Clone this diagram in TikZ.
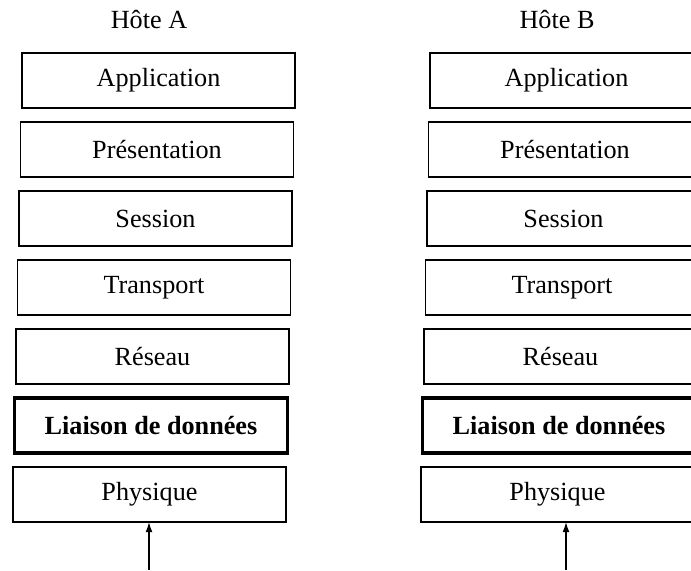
\documentclass[tikz,border=0pt]{standalone}
\usepackage{fontspec}
\setmainfont{Liberation Serif}
\usetikzlibrary{arrows.meta, positioning}

\begin{document}
\begin{tikzpicture}[>={Latex[length=5pt, width=3.4pt]}, x=1pt, y=1pt, node distance=7pt,
	layer/.style={draw, rectangle, line width=0.7pt, outer sep=0pt, minimum height=27.5pt, minimum width=136.5pt, font=\fontsize{13.1}{15}\selectfont, xshift=-0.75pt},
	boldlayer/.style={layer, line width=1.7pt, font=\fontsize{13.1}{15}\selectfont\bfseries},
	host/.style={anchor=base, font=\fontsize{13.1}{15}\selectfont}]
	
	\useasboundingbox (0,0) rectangle (345.5,-285);
	
	% titres des deux hôtes
	\node[host] (hostA) at (74.5,-14) {Hôte A};
	\node[host] (hostB) at (278.5,-14) {Hôte B};
	
	% pile OSI de l'hôte A
	\node[layer] (appA) at (80,-40.25) {Application};
	\node[layer, below=of appA] (presA) {Présentation};
	\node[layer, below=of presA] (sessA) {Session};
	\node[layer, below=of sessA] (transA) {Transport};
	\node[layer, below=of transA] (resA) {Réseau};
	\node[boldlayer, below=of resA] (liaisonA) {Liaison de données};
	\node[layer, below=of liaisonA] (physA) {Physique};
	
	% pile OSI de l'hôte B
	\node[layer] (appB) at (284,-40.25) {Application};
	\node[layer, below=of appB] (presB) {Présentation};
	\node[layer, below=of presB] (sessB) {Session};
	\node[layer, below=of sessB] (transB) {Transport};
	\node[layer, below=of transB] (resB) {Réseau};
	\node[boldlayer, below=of resB] (liaisonB) {Liaison de données};
	\node[layer, below=of liaisonB] (physB) {Physique};
	
	% entrées vers la couche physique
	\coordinate (inA) at (74.5,-285);
	\coordinate (inB) at (283,-285);
	\draw[->, line width=0.6pt] (inA) -- (inA |- physA.south);
	\draw[->, line width=0.6pt] (inB) -- (inB |- physB.south);
	
\end{tikzpicture}
\end{document}
